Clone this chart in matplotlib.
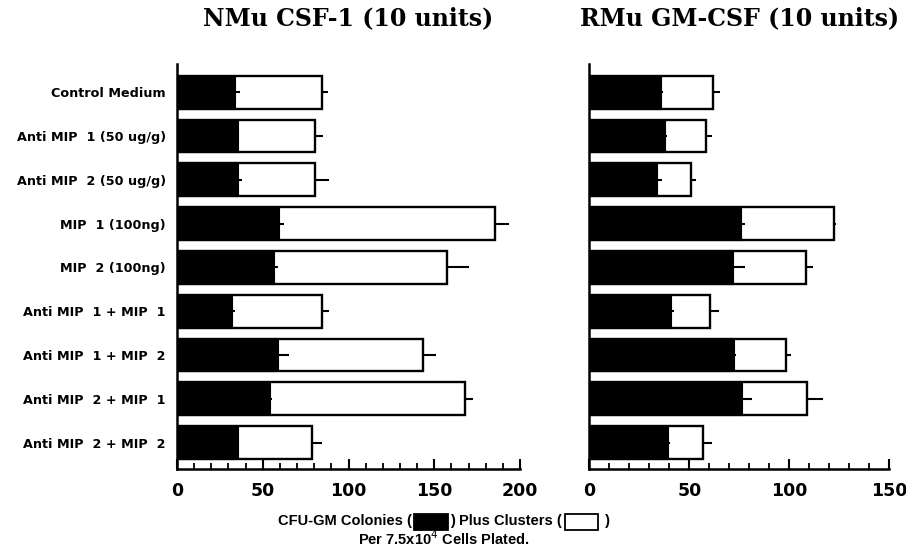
import numpy as np
import matplotlib
matplotlib.use("Agg")
from matplotlib import pyplot as plt
from matplotlib.offsetbox import TextArea, DrawingArea, HPacker, VPacker, AnchoredOffsetbox
from matplotlib.patches import Rectangle

labels = ["Control Medium", "Anti MIP  1 (50 ug/g)", "Anti MIP  2 (50 ug/g)",
          "MIP  1 (100ng)", "MIP  2 (100ng)", "Anti MIP  1 + MIP  1",
          "Anti MIP  1 + MIP  2", "Anti MIP  2 + MIP  1", "Anti MIP  2 + MIP  2"]

# NMu CSF-1: colonies and colonies+clusters, with errors
csf_col = [34, 35.4, 35.4, 59.3, 56.8, 31.9, 59, 54.1, 35.4]
csf_col_err = [3, 1, 2.3, 3, 2, 2, 6.5, 1, 1]
csf_tot = [84.5, 80.4, 80.7, 185.6, 157.6, 84.5, 143.2, 167.9, 78.6]
csf_tot_err = [3.5, 5, 7.8, 7.8, 12.4, 4, 7.8, 4.5, 6.2]

# RMu GM-CSF
gm_col = [35.7, 38, 34, 76, 72, 41, 72.3, 76.5, 39.3]
gm_col_err = [1.3, 1, 2.3, 1.7, 6, 1.3, 1, 5, 1]
gm_tot = [62, 58.2, 51, 122.3, 108.3, 60.3, 98.5, 108.8, 56.8]
gm_tot_err = [3.3, 3.3, 2.3, 1, 3.7, 4.4, 2.2, 8.2, 4.7]

sans = ["Liberation Sans", "DejaVu Sans"]
wide = ["DejaVu Sans"]
serif = ["DejaVu Serif"]

fig = plt.figure(figsize=(9.06, 5.54), dpi=100)
ax1 = fig.add_axes([0.1954, 0.1529, 0.3786, 0.7316])
ax2 = fig.add_axes([0.6504, 0.1529, 0.3311, 0.7316])

y = np.arange(len(labels))
h = 0.75


def panel(ax, col, col_err, tot, tot_err, xmax, title):
    ax.barh(y, tot, height=h, color="white", edgecolor="black", linewidth=1.7, zorder=2)
    ax.barh(y, col, height=h, color="black", edgecolor="black", linewidth=0.8, zorder=3)
    ax.errorbar(tot, y, xerr=[np.zeros(len(y)), tot_err], fmt="none",
                ecolor="black", elinewidth=1.5, capsize=0, zorder=4)
    ax.errorbar(col, y, xerr=[np.zeros(len(y)), col_err], fmt="none",
                ecolor="black", elinewidth=1.5, capsize=0, zorder=4)
    ax.set_xlim(0, xmax)
    ax.set_ylim(8.61, -0.645)
    for s in ["top", "right"]:
        ax.spines[s].set_visible(False)
    for s in ["left", "bottom"]:
        ax.spines[s].set_linewidth(1.8)
    ax.set_xticks(np.arange(0, xmax + 1, 50))
    ax.set_xticks(np.arange(0, xmax + 1, 10), minor=True)
    ax.tick_params(axis="x", which="major", direction="in", length=7, width=1.5, pad=9)
    ax.tick_params(axis="x", which="minor", direction="in", length=4, width=1.3)
    ax.tick_params(axis="y", length=0)
    for t in ax.get_xticklabels():
        t.set_fontfamily(wide)
        t.set_fontweight("bold")
        t.set_fontsize(12.5)
    ax.set_title(title, fontfamily=serif, fontweight="bold", fontsize=17, pad=28)


panel(ax1, csf_col, csf_col_err, csf_tot, csf_tot_err, 200, "NMu CSF-1 (10 units)")
panel(ax2, gm_col, gm_col_err, gm_tot, gm_tot_err, 150, "RMu GM-CSF (10 units)")

ax1.set_yticks(y)
ax1.set_yticklabels(labels, fontfamily=wide, fontweight="bold", fontsize=9.2)
ax1.tick_params(axis="y", pad=8)
ax2.set_yticks([])

# footer text with the little black / white boxes
tp = dict(fontfamily=sans, fontweight="bold", fontsize=10.5)


def box(face):
    da = DrawingArea(26, 12, 0, 0)
    da.add_artist(Rectangle((1, 0), 24, 11, facecolor=face, edgecolor="black", linewidth=1.3))
    return da


line1 = HPacker(children=[TextArea("CFU-GM Colonies (", textprops=tp), box("black"),
                          TextArea(") Plus Clusters (", textprops=tp), box("white"),
                          TextArea(" )", textprops=tp)],
                align="center", pad=0, sep=1)
line2 = TextArea("Per 7.5x10$^4$ Cells Plated.", textprops=tp)
footer = VPacker(children=[line1, line2], align="center", pad=0, sep=0)
anch = AnchoredOffsetbox(loc="center", child=footer, frameon=False,
                         bbox_to_anchor=(0.49, 0.042), bbox_transform=fig.transFigure)
fig.add_artist(anch)

fig.savefig("out.png", dpi=100)
